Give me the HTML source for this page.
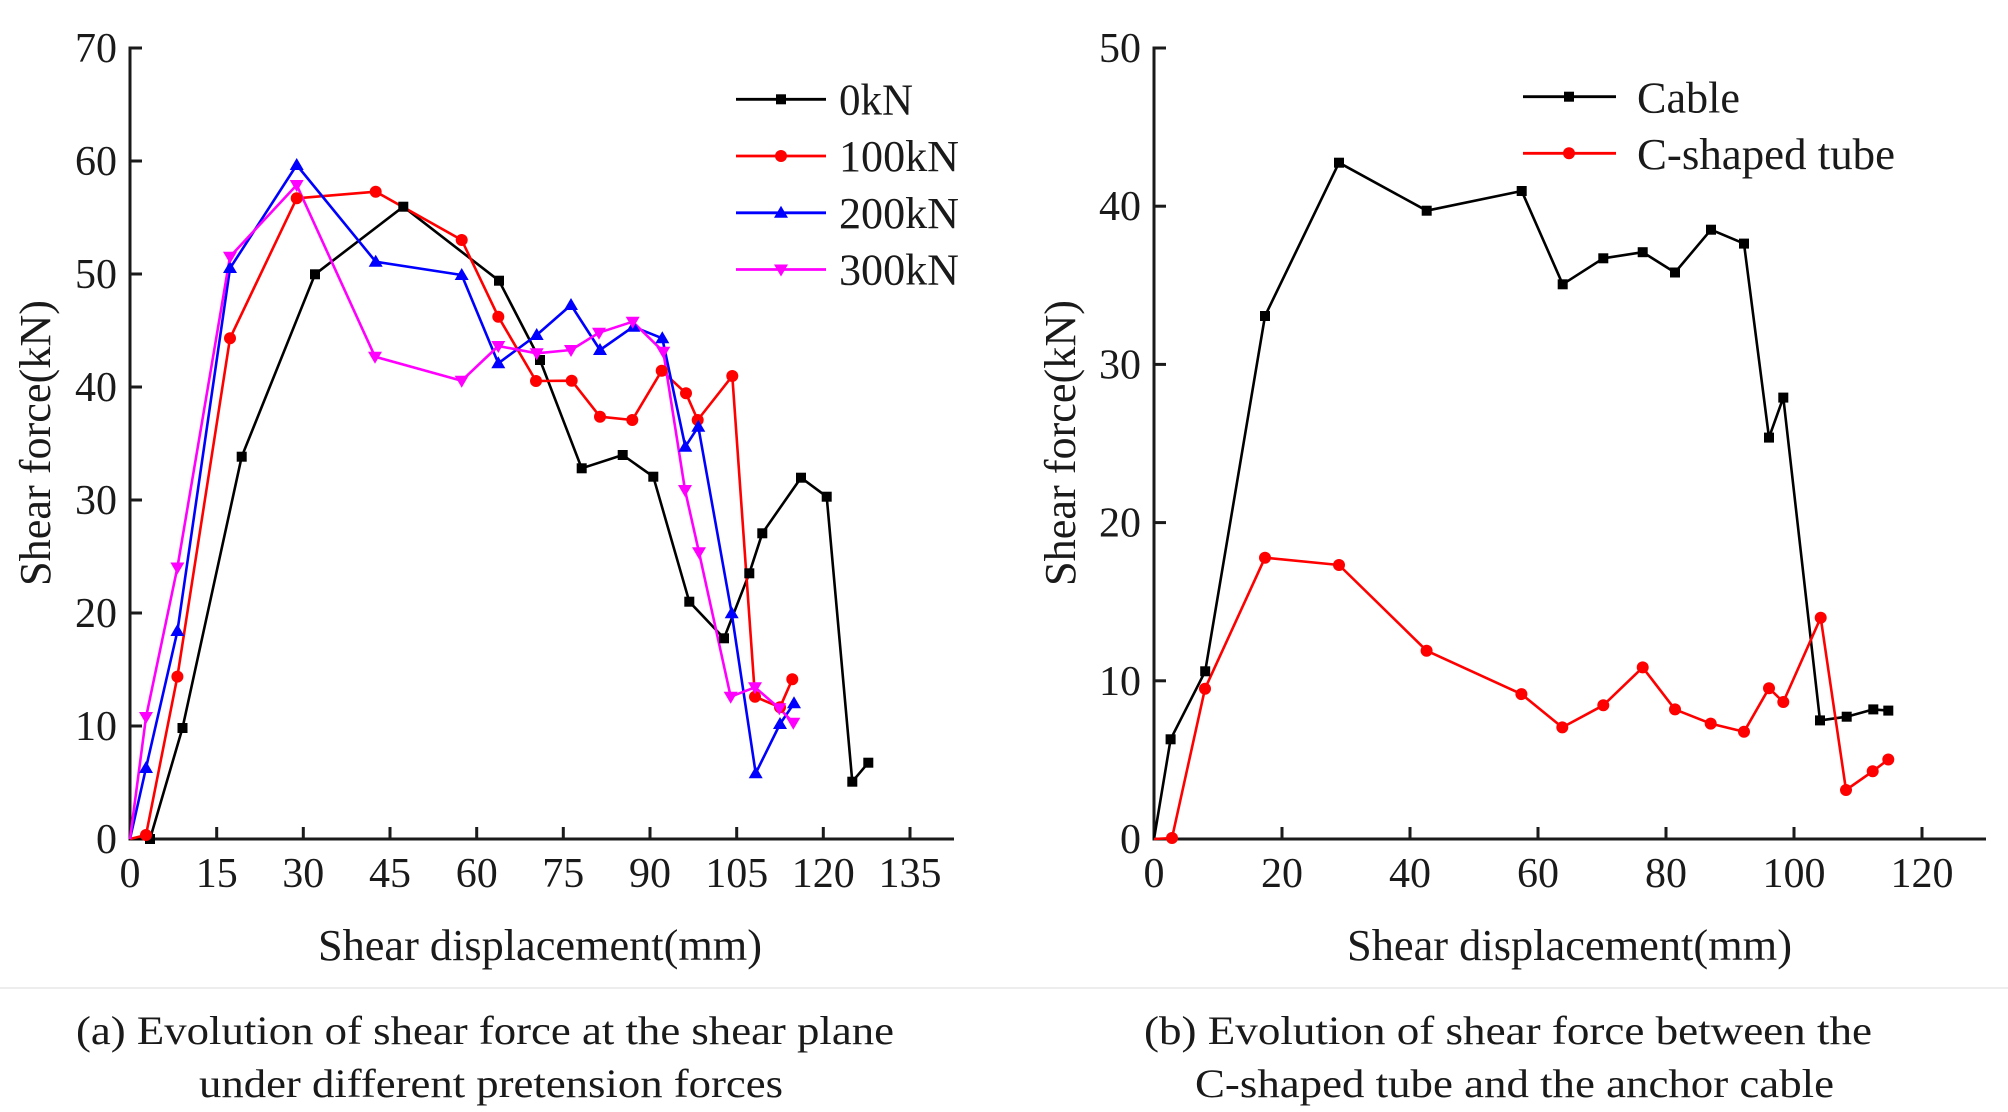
<!DOCTYPE html>
<html>
<head>
<meta charset="utf-8">
<style>
  html,body{margin:0;padding:0;background:#fff;}
  svg{display:block;}
  text{font-family:"Liberation Serif","Times New Roman",serif;fill:#1a1a1a;}
</style>
</head>
<body>
<svg width="2008" height="1112" viewBox="0 0 2008 1112" xmlns="http://www.w3.org/2000/svg">
  <rect x="0" y="0" width="2008" height="1112" fill="#fff"/>
  <line x1="0" y1="988" x2="2008" y2="988" stroke="#ededed" stroke-width="2"/>

  <!-- ============ LEFT CHART ============ -->
  <g stroke="#1a1a1a" stroke-width="3" fill="none">
    <line x1="130" y1="46.5" x2="130" y2="840.5"/>
    <line x1="128.5" y1="839" x2="954" y2="839"/>
    <!-- y ticks -->
    <line x1="130" y1="726" x2="142" y2="726"/>
    <line x1="130" y1="613" x2="142" y2="613"/>
    <line x1="130" y1="500" x2="142" y2="500"/>
    <line x1="130" y1="387" x2="142" y2="387"/>
    <line x1="130" y1="274" x2="142" y2="274"/>
    <line x1="130" y1="161" x2="142" y2="161"/>
    <line x1="130" y1="48" x2="142" y2="48"/>
    <!-- x ticks -->
    <line x1="216.7" y1="839" x2="216.7" y2="827"/>
    <line x1="303.3" y1="839" x2="303.3" y2="827"/>
    <line x1="390" y1="839" x2="390" y2="827"/>
    <line x1="476.7" y1="839" x2="476.7" y2="827"/>
    <line x1="563.3" y1="839" x2="563.3" y2="827"/>
    <line x1="650" y1="839" x2="650" y2="827"/>
    <line x1="736.7" y1="839" x2="736.7" y2="827"/>
    <line x1="823.3" y1="839" x2="823.3" y2="827"/>
    <line x1="910" y1="839" x2="910" y2="827"/>
  </g>
  <g font-size="42" text-anchor="end">
    <text x="117" y="853">0</text>
    <text x="117" y="740">10</text>
    <text x="117" y="627">20</text>
    <text x="117" y="514">30</text>
    <text x="117" y="401">40</text>
    <text x="117" y="288">50</text>
    <text x="117" y="175">60</text>
    <text x="117" y="62">70</text>
  </g>
  <g font-size="42" text-anchor="middle">
    <text x="130" y="887">0</text>
    <text x="216.7" y="887">15</text>
    <text x="303.3" y="887">30</text>
    <text x="390" y="887">45</text>
    <text x="476.7" y="887">60</text>
    <text x="563.3" y="887">75</text>
    <text x="650" y="887">90</text>
    <text x="736.7" y="887">105</text>
    <text x="823.3" y="887">120</text>
    <text x="910" y="887">135</text>
  </g>
  <text x="318" y="960" font-size="44" textLength="444" lengthAdjust="spacingAndGlyphs">Shear displacement(mm)</text>
  <text transform="translate(50,443) rotate(-90)" font-size="44" text-anchor="middle" textLength="286" lengthAdjust="spacingAndGlyphs">Shear force(kN)</text>

  <!-- series: 0kN black -->
  <polyline fill="none" stroke="#000" stroke-width="2.6" stroke-linejoin="round"
    points="130,839 150,839 182.5,728 241.7,456.7 315,274.3 403.3,206.7 499,280.7 540,360 581.7,468.3 622.7,455 653.3,476.7 689.3,601.7 724,638.3 749.3,573.3 762.3,533.3 801,477.7 826.7,496.7 852.3,781.7 868.3,762.7"/>
  <!-- 100kN red -->
  <polyline fill="none" stroke="#ff0000" stroke-width="2.6" stroke-linejoin="round"
    points="130,839 146,835 177.4,676.6 230,338.3 296.7,198.3 375.7,191.7 461.7,240 498.3,316.7 536,381 571.7,380.7 600,416.7 632.3,420 661.7,370.7 686,393.3 697.7,420 732.3,376 755,696.7 780,707.3 792.3,679.3"/>
  <!-- 200kN blue -->
  <polyline fill="none" stroke="#0000ff" stroke-width="2.6" stroke-linejoin="round"
    points="130,839 146,768 177.4,631.2 230,268.3 296.7,165 375.7,261.7 461.7,275 498.3,363.3 536.7,335 571,305 600,350 633.3,326.7 662.3,338.3 685.3,446.7 698.3,426.7 731.7,613.3 755.7,773.3 780,724 794,703.3"/>
  <!-- 300kN magenta -->
  <polyline fill="none" stroke="#ff00ff" stroke-width="2.6" stroke-linejoin="round"
    points="130,839 146,717.3 177.4,567.5 230,256.7 296.7,185 375,356.7 461.7,380.7 498.3,346 536.7,353.3 571,350 599,332.7 632.7,321.7 663.3,351.7 685,490 699,552.3 730.7,696.7 755,687.3 779.3,708.3 793.3,722.7"/>

  <!-- markers black squares -->
  <g fill="#000">
    <rect x="145" y="834" width="10" height="10"/>
    <rect x="177.5" y="723" width="10" height="10"/>
    <rect x="236.7" y="451.7" width="10" height="10"/>
    <rect x="310" y="269.3" width="10" height="10"/>
    <rect x="398.3" y="201.7" width="10" height="10"/>
    <rect x="494" y="275.7" width="10" height="10"/>
    <rect x="535" y="355" width="10" height="10"/>
    <rect x="576.7" y="463.3" width="10" height="10"/>
    <rect x="617.7" y="450" width="10" height="10"/>
    <rect x="648.3" y="471.7" width="10" height="10"/>
    <rect x="684.3" y="596.7" width="10" height="10"/>
    <rect x="719" y="633.3" width="10" height="10"/>
    <rect x="744.3" y="568.3" width="10" height="10"/>
    <rect x="757.3" y="528.3" width="10" height="10"/>
    <rect x="796" y="472.7" width="10" height="10"/>
    <rect x="821.7" y="491.7" width="10" height="10"/>
    <rect x="847.3" y="776.7" width="10" height="10"/>
    <rect x="863.3" y="757.7" width="10" height="10"/>
  </g>
  <!-- red circles -->
  <g fill="#ff0000">
    <circle cx="146" cy="835" r="6"/>
    <circle cx="177.4" cy="676.6" r="6"/>
    <circle cx="230" cy="338.3" r="6"/>
    <circle cx="296.7" cy="198.3" r="6"/>
    <circle cx="375.7" cy="191.7" r="6"/>
    <circle cx="461.7" cy="240" r="6"/>
    <circle cx="498.3" cy="316.7" r="6"/>
    <circle cx="536" cy="381" r="6"/>
    <circle cx="571.7" cy="380.7" r="6"/>
    <circle cx="600" cy="416.7" r="6"/>
    <circle cx="632.3" cy="420" r="6"/>
    <circle cx="661.7" cy="370.7" r="6"/>
    <circle cx="686" cy="393.3" r="6"/>
    <circle cx="697.7" cy="420" r="6"/>
    <circle cx="732.3" cy="376" r="6"/>
    <circle cx="755" cy="696.7" r="6"/>
    <circle cx="780" cy="707.3" r="6"/>
    <circle cx="792.3" cy="679.3" r="6"/>
  </g>
  <!-- blue up triangles -->
  <g fill="#0000ff">
    <polygon points="146,761 153,773 139,773"/>
    <polygon points="177.4,624 184.4,636 170.4,636"/>
    <polygon points="230,261 237,273 223,273"/>
    <polygon points="296.7,158 303.7,170 289.7,170"/>
    <polygon points="375.7,254.7 382.7,266.7 368.7,266.7"/>
    <polygon points="461.7,268 468.7,280 454.7,280"/>
    <polygon points="498.3,356.3 505.3,368.3 491.3,368.3"/>
    <polygon points="536.7,328 543.7,340 529.7,340"/>
    <polygon points="571,298 578,310 564,310"/>
    <polygon points="600,343 607,355 593,355"/>
    <polygon points="633.3,319.7 640.3,331.7 626.3,331.7"/>
    <polygon points="662.3,331.3 669.3,343.3 655.3,343.3"/>
    <polygon points="685.3,439.7 692.3,451.7 678.3,451.7"/>
    <polygon points="698.3,419.7 705.3,431.7 691.3,431.7"/>
    <polygon points="731.7,606.3 738.7,618.3 724.7,618.3"/>
    <polygon points="755.7,766.3 762.7,778.3 748.7,778.3"/>
    <polygon points="780,717 787,729 773,729"/>
    <polygon points="794,696.3 801,708.3 787,708.3"/>
  </g>
  <!-- magenta down triangles -->
  <g fill="#ff00ff">
    <polygon points="139,712 153,712 146,724"/>
    <polygon points="170.4,562.5 184.4,562.5 177.4,574.5"/>
    <polygon points="223,251.7 237,251.7 230,263.7"/>
    <polygon points="289.7,180 303.7,180 296.7,192"/>
    <polygon points="368,351.7 382,351.7 375,363.7"/>
    <polygon points="454.7,375.7 468.7,375.7 461.7,387.7"/>
    <polygon points="491.3,341 505.3,341 498.3,353"/>
    <polygon points="529.7,348.3 543.7,348.3 536.7,360.3"/>
    <polygon points="564,345 578,345 571,357"/>
    <polygon points="592,327.7 606,327.7 599,339.7"/>
    <polygon points="625.7,316.7 639.7,316.7 632.7,328.7"/>
    <polygon points="656.3,346.7 670.3,346.7 663.3,358.7"/>
    <polygon points="678,485 692,485 685,497"/>
    <polygon points="692,547.3 706,547.3 699,559.3"/>
    <polygon points="723.7,691.7 737.7,691.7 730.7,703.7"/>
    <polygon points="748,682.3 762,682.3 755,694.3"/>
    <polygon points="772.3,703.3 786.3,703.3 779.3,715.3"/>
    <polygon points="786.3,717.7 800.3,717.7 793.3,729.7"/>
  </g>

  <!-- left legend -->
  <g stroke-width="2.8">
    <line x1="736" y1="99.3" x2="826" y2="99.3" stroke="#000"/>
    <line x1="736" y1="156" x2="826" y2="156" stroke="#ff0000"/>
    <line x1="736" y1="212.8" x2="826" y2="212.8" stroke="#0000ff"/>
    <line x1="736" y1="269.5" x2="826" y2="269.5" stroke="#ff00ff"/>
  </g>
  <rect x="776" y="94.3" width="10" height="10" fill="#000"/>
  <circle cx="781" cy="156" r="6" fill="#ff0000"/>
  <polygon points="781,205.8 788,217.8 774,217.8" fill="#0000ff"/>
  <polygon points="774,264.5 788,264.5 781,276.5" fill="#ff00ff"/>
  <g font-size="44">
    <text x="839" y="114.3" textLength="74" lengthAdjust="spacingAndGlyphs">0kN</text>
    <text x="839" y="171" textLength="120" lengthAdjust="spacingAndGlyphs">100kN</text>
    <text x="839" y="227.8" textLength="120" lengthAdjust="spacingAndGlyphs">200kN</text>
    <text x="839" y="284.5" textLength="120" lengthAdjust="spacingAndGlyphs">300kN</text>
  </g>

  <!-- caption a -->
  <text x="76" y="1044" font-size="40" textLength="818" lengthAdjust="spacingAndGlyphs">(a) Evolution of shear force at the shear plane</text>
  <text x="199" y="1097" font-size="40" textLength="584" lengthAdjust="spacingAndGlyphs">under different pretension forces</text>

  <!-- ============ RIGHT CHART ============ -->
  <g stroke="#1a1a1a" stroke-width="3" fill="none">
    <line x1="1154" y1="46.5" x2="1154" y2="840.5"/>
    <line x1="1152.5" y1="839" x2="1986" y2="839"/>
    <line x1="1154" y1="680.8" x2="1166" y2="680.8"/>
    <line x1="1154" y1="522.6" x2="1166" y2="522.6"/>
    <line x1="1154" y1="364.4" x2="1166" y2="364.4"/>
    <line x1="1154" y1="206.2" x2="1166" y2="206.2"/>
    <line x1="1154" y1="48" x2="1166" y2="48"/>
    <line x1="1282" y1="839" x2="1282" y2="827"/>
    <line x1="1410" y1="839" x2="1410" y2="827"/>
    <line x1="1538" y1="839" x2="1538" y2="827"/>
    <line x1="1666" y1="839" x2="1666" y2="827"/>
    <line x1="1794" y1="839" x2="1794" y2="827"/>
    <line x1="1922" y1="839" x2="1922" y2="827"/>
  </g>
  <g font-size="42" text-anchor="end">
    <text x="1141" y="853">0</text>
    <text x="1141" y="694.8">10</text>
    <text x="1141" y="536.6">20</text>
    <text x="1141" y="378.4">30</text>
    <text x="1141" y="220.2">40</text>
    <text x="1141" y="62">50</text>
  </g>
  <g font-size="42" text-anchor="middle">
    <text x="1154" y="887">0</text>
    <text x="1282" y="887">20</text>
    <text x="1410" y="887">40</text>
    <text x="1538" y="887">60</text>
    <text x="1666" y="887">80</text>
    <text x="1794" y="887">100</text>
    <text x="1922" y="887">120</text>
  </g>
  <text x="1347" y="960" font-size="44" textLength="445" lengthAdjust="spacingAndGlyphs">Shear displacement(mm)</text>
  <text transform="translate(1075,443) rotate(-90)" font-size="44" text-anchor="middle" textLength="286" lengthAdjust="spacingAndGlyphs">Shear force(kN)</text>

  <!-- Cable black -->
  <polyline fill="none" stroke="#000" stroke-width="2.6" stroke-linejoin="round"
    points="1154,839 1170.6,739.3 1205.2,671.3 1265,316 1339,162.7 1426.7,210.7 1521.7,191 1562.7,284.3 1603.3,258.3 1642.7,252.2 1675,272.5 1711,229.7 1744,243.6 1769,437.6 1783.3,397.6 1820,720.4 1846.7,716.7 1873.3,709.4 1888.3,710.6"/>
  <!-- C-shaped tube red -->
  <polyline fill="none" stroke="#ff0000" stroke-width="2.6" stroke-linejoin="round"
    points="1154,839 1172,838 1205,688.7 1265,557.7 1339,565 1426.6,650.7 1521.4,694.1 1562.3,727.4 1603.3,705.3 1642.7,667.4 1675,709.4 1710.7,723.6 1744,731.8 1769,688.2 1783.3,702 1820.7,617.7 1846,790 1872.7,771.3 1888.3,759.5"/>
  <g fill="#000">
    <rect x="1165.6" y="734.3" width="10" height="10"/>
    <rect x="1200.2" y="666.3" width="10" height="10"/>
    <rect x="1260" y="311" width="10" height="10"/>
    <rect x="1334" y="157.7" width="10" height="10"/>
    <rect x="1421.7" y="205.7" width="10" height="10"/>
    <rect x="1516.7" y="186" width="10" height="10"/>
    <rect x="1557.7" y="279.3" width="10" height="10"/>
    <rect x="1598.3" y="253.3" width="10" height="10"/>
    <rect x="1637.7" y="247.2" width="10" height="10"/>
    <rect x="1670" y="267.5" width="10" height="10"/>
    <rect x="1706" y="224.7" width="10" height="10"/>
    <rect x="1739" y="238.6" width="10" height="10"/>
    <rect x="1764" y="432.6" width="10" height="10"/>
    <rect x="1778.3" y="392.6" width="10" height="10"/>
    <rect x="1815" y="715.4" width="10" height="10"/>
    <rect x="1841.7" y="711.7" width="10" height="10"/>
    <rect x="1868.3" y="704.4" width="10" height="10"/>
    <rect x="1883.3" y="705.6" width="10" height="10"/>
  </g>
  <g fill="#ff0000">
    <circle cx="1172" cy="838" r="6"/>
    <circle cx="1205" cy="688.7" r="6"/>
    <circle cx="1265" cy="557.7" r="6"/>
    <circle cx="1339" cy="565" r="6"/>
    <circle cx="1426.6" cy="650.7" r="6"/>
    <circle cx="1521.4" cy="694.1" r="6"/>
    <circle cx="1562.3" cy="727.4" r="6"/>
    <circle cx="1603.3" cy="705.3" r="6"/>
    <circle cx="1642.7" cy="667.4" r="6"/>
    <circle cx="1675" cy="709.4" r="6"/>
    <circle cx="1710.7" cy="723.6" r="6"/>
    <circle cx="1744" cy="731.8" r="6"/>
    <circle cx="1769" cy="688.2" r="6"/>
    <circle cx="1783.3" cy="702" r="6"/>
    <circle cx="1820.7" cy="617.7" r="6"/>
    <circle cx="1846" cy="790" r="6"/>
    <circle cx="1872.7" cy="771.3" r="6"/>
    <circle cx="1888.3" cy="759.5" r="6"/>
  </g>

  <!-- right legend -->
  <line x1="1523" y1="96.7" x2="1616" y2="96.7" stroke="#000" stroke-width="2.8"/>
  <rect x="1564" y="91.7" width="10" height="10" fill="#000"/>
  <line x1="1523" y1="153.3" x2="1616" y2="153.3" stroke="#ff0000" stroke-width="2.8"/>
  <circle cx="1569" cy="153.3" r="6" fill="#ff0000"/>
  <g font-size="44">
    <text x="1637" y="112.5" textLength="103" lengthAdjust="spacingAndGlyphs">Cable</text>
    <text x="1637" y="169" textLength="258" lengthAdjust="spacingAndGlyphs">C-shaped tube</text>
  </g>

  <!-- caption b -->
  <text x="1144" y="1044" font-size="40" textLength="728" lengthAdjust="spacingAndGlyphs">(b) Evolution of shear force between the</text>
  <text x="1195" y="1097" font-size="40" textLength="639" lengthAdjust="spacingAndGlyphs">C-shaped tube and the anchor cable</text>
</svg>
</body>
</html>
